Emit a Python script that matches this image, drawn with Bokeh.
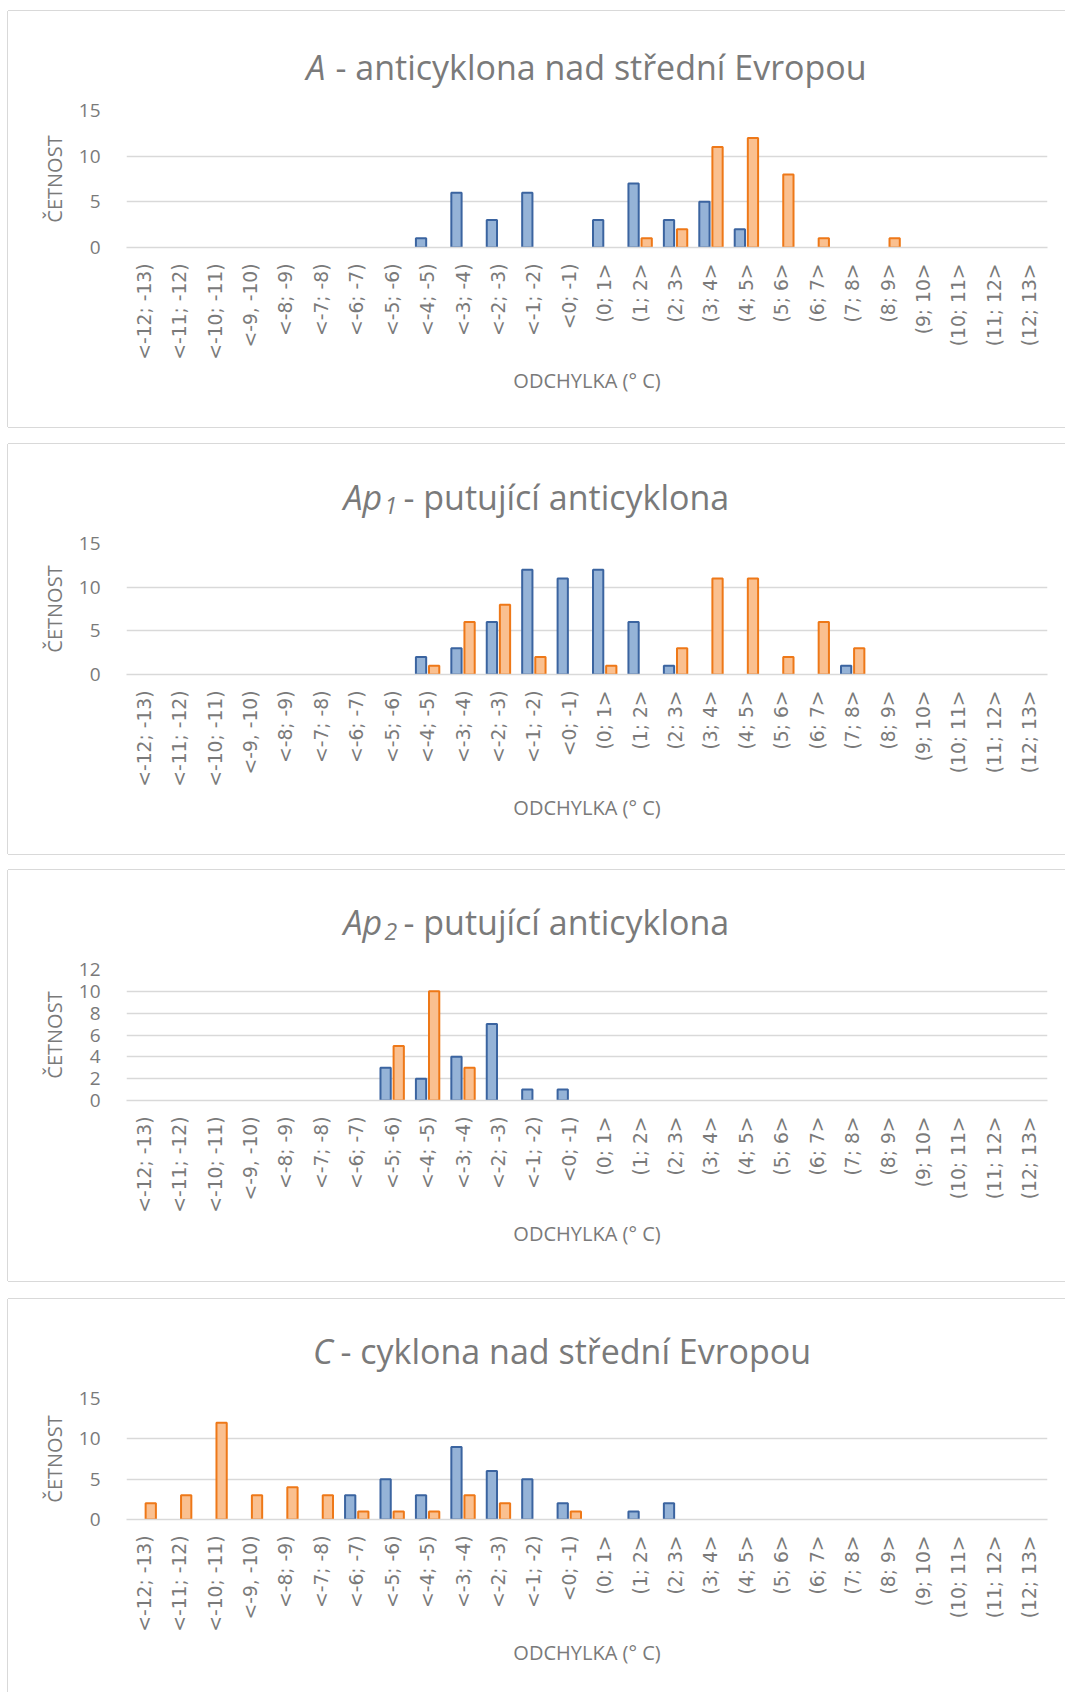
import math
from bokeh.plotting import figure
from bokeh.models import FactorRange, Range1d, ColumnDataSource, FixedTicker, Label, Spacer
from bokeh.transform import dodge
from bokeh.layouts import column, row
from bokeh.embed import file_html
from bokeh.resources import INLINE

categories = ["<-12; -13)", "<-11; -12)", "<-10; -11)", "<-9, -10)", "<-8; -9)",
              "<-7; -8)", "<-6; -7)", "<-5; -6)", "<-4; -5)", "<-3; -4)", "<-2; -3)",
              "<-1; -2)", "<0; -1)", "(0; 1>", "(1; 2>", "(2; 3>", "(3; 4>", "(4; 5>",
              "(5; 6>", "(6; 7>", "(7; 8>", "(8; 9>", "(9; 10>", "(10; 11>", "(11; 12>",
              "(12; 13>"]

xaxis_title = "ODCHYLKA (° C)"
yaxis_title = "ČETNOST"

a_blue   = [0, 0, 0, 0, 0, 0, 0, 0, 1, 6, 3, 6, 0, 3, 7, 3, 5, 2, 0, 0, 0, 0, 0, 0, 0, 0]
a_orange = [0, 0, 0, 0, 0, 0, 0, 0, 0, 0, 0, 0, 0, 0, 1, 2, 11, 12, 8, 1, 0, 1, 0, 0, 0, 0]

ap1_blue   = [0, 0, 0, 0, 0, 0, 0, 0, 2, 3, 6, 12, 11, 12, 6, 1, 0, 0, 0, 0, 1, 0, 0, 0, 0, 0]
ap1_orange = [0, 0, 0, 0, 0, 0, 0, 0, 1, 6, 8, 2, 0, 1, 0, 3, 11, 11, 2, 6, 3, 0, 0, 0, 0, 0]

ap2_blue   = [0, 0, 0, 0, 0, 0, 0, 3, 2, 4, 7, 1, 1, 0, 0, 0, 0, 0, 0, 0, 0, 0, 0, 0, 0, 0]
ap2_orange = [0, 0, 0, 0, 0, 0, 0, 5, 10, 3, 0, 0, 0, 0, 0, 0, 0, 0, 0, 0, 0, 0, 0, 0, 0, 0]

c_blue   = [0, 0, 0, 0, 0, 0, 3, 5, 3, 9, 6, 5, 2, 0, 1, 2, 0, 0, 0, 0, 0, 0, 0, 0, 0, 0]
c_orange = [2, 3, 12, 3, 4, 3, 1, 1, 1, 3, 2, 0, 1, 0, 0, 0, 0, 0, 0, 0, 0, 0, 0, 0, 0, 0]

a_ticks = [0, 5, 10, 15]
ap2_ticks = [0, 2, 4, 6, 8, 10, 12]

TXT = "#7a7a7a"
GRID = "#d9d9d9"
BLUE_FILL, BLUE_LINE = "#95b3d7", "#3b64a0"
ORANGE_FILL, ORANGE_LINE = "#fac090", "#ee7818"

FIG_W = 1057
FRAME_LEFT = 118
FRAME_W = 921
FRAME_RIGHT = FIG_W - FRAME_LEFT - FRAME_W
PAGE_X0 = 8
TITLE_H = 84
FRAME_TOP = 99
BASE_FIX = 11
SHADOW = {"box-shadow": "-1px 0 0 0 #d9d9d9, 0 -1px 0 0 #d9d9d9, 0 1px 0 0 #d9d9d9"}


def nonzero(vals):
    cats = [c for c, v in zip(categories, vals) if v]
    tops = [v for v in vals if v]
    return ColumnDataSource(dict(cat=cats, top=tops))


def make_title(parts, baseline_from_top):
    x0 = PAGE_X0 + FRAME_LEFT
    t = figure(width=FIG_W, height=TITLE_H,
               x_range=Range1d(x0, x0 + FRAME_W), y_range=Range1d(TITLE_H, 0),
               output_backend="svg", toolbar_location=None,
               min_border_left=FRAME_LEFT, min_border_right=FRAME_RIGHT,
               min_border_top=0, min_border_bottom=0,
               x_axis_location=None, y_axis_location=None)
    t.grid.visible = False
    t.outline_line_color = None
    t.background_fill_color = "white"
    t.border_fill_color = "white"
    for text, page_x, dy, size, style in parts:
        t.add_layout(Label(x=page_x, y=baseline_from_top + dy - BASE_FIX,
                           text=text, text_font="Open Sans", text_font_size=f"{size}px",
                           text_font_style=style, text_color=TXT,
                           text_align="left", text_baseline="alphabetic"))
    return t


def make_panel(blue, orange, ymax, ticks, height, frame_h, title_parts, title_base):
    top = FRAME_TOP - TITLE_H
    ch = height - TITLE_H
    p = figure(width=FIG_W, height=ch,
               x_range=FactorRange(*categories, range_padding=0),
               y_range=Range1d(0, ymax),
               output_backend="svg", toolbar_location=None,
               min_border_left=FRAME_LEFT, min_border_right=FRAME_RIGHT,
               min_border_top=top, min_border_bottom=ch - top - frame_h)
    p.outline_line_color = None
    p.background_fill_color = "white"
    p.border_fill_color = "white"

    p.vbar(x=dodge("cat", -0.185, range=p.x_range), top="top", width=0.29, source=nonzero(blue),
           fill_color=BLUE_FILL, line_color=BLUE_LINE, line_width=2)
    p.vbar(x=dodge("cat", 0.185, range=p.x_range), top="top", width=0.29, source=nonzero(orange),
           fill_color=ORANGE_FILL, line_color=ORANGE_LINE, line_width=2)

    p.xgrid.grid_line_color = None
    p.ygrid.grid_line_color = GRID
    p.ygrid.grid_line_width = 1.6

    yax = p.yaxis[0]
    yax.ticker = FixedTicker(ticks=ticks)
    yax.axis_line_color = None
    yax.major_tick_line_color = None
    yax.minor_tick_line_color = None
    yax.major_label_standoff = 20
    yax.major_label_text_font = "Open Sans"
    yax.major_label_text_font_size = "19px"
    yax.major_label_text_color = TXT
    yax.axis_label = yaxis_title
    yax.axis_label_text_font = "Open Sans"
    yax.axis_label_text_font_size = "20px"
    yax.axis_label_text_font_style = "normal"
    yax.axis_label_text_color = TXT
    yax.axis_label_standoff = 8

    xax = p.xaxis[0]
    xax.axis_line_color = GRID
    xax.axis_line_width = 1.6
    xax.major_tick_line_color = None
    xax.minor_tick_line_color = None
    xax.major_label_orientation = math.pi / 2
    xax.major_label_standoff = 10
    xax.major_label_text_font = "DejaVu Sans"
    xax.major_label_text_font_size = "18.7px"
    xax.major_label_text_color = TXT
    xax.axis_label = xaxis_title
    xax.axis_label_text_font = "Open Sans"
    xax.axis_label_text_font_size = "20px"
    xax.axis_label_text_font_style = "normal"
    xax.axis_label_text_color = TXT
    xax.axis_label_standoff = 4

    t = make_title(title_parts, title_base)
    return column(t, p, spacing=0, styles=SHADOW)


p1 = make_panel(a_blue, a_orange, 15, a_ticks, 416, 137,
                [("A", 305.7, 0, 34, "italic"),
                 ("- anticyklona nad střední Evropou", 335, 0, 34, "normal")], 66.3)
p2 = make_panel(ap1_blue, ap1_orange, 15, a_ticks, 410, 131,
                [("Ap", 343, 0, 34, "italic"), ("1", 384, 9, 23, "italic"),
                 ("- putující anticyklona", 403, 0, 34, "normal")], 63.3)
p3 = make_panel(ap2_blue, ap2_orange, 12, ap2_ticks, 411, 131,
                [("Ap", 343, 0, 34, "italic"), ("2", 384, 9, 23, "italic"),
                 ("- putující anticyklona", 403, 0, 34, "normal")], 62.7)
p4 = make_panel(c_blue, c_orange, 15, a_ticks, 393, 121,
                [("C", 312.5, 0, 34, "italic"),
                 ("- cyklona nad střední Evropou", 340, 0, 34, "normal")], 62.7)

col = column(Spacer(width=10, height=11), p1, Spacer(width=10, height=17), p2,
             Spacer(width=10, height=16), p3, Spacer(width=10, height=18), p4,
             spacing=0)
layout = row(Spacer(width=PAGE_X0, height=10), col, spacing=0)

open("out.html", "w").write(file_html(layout, INLINE))
